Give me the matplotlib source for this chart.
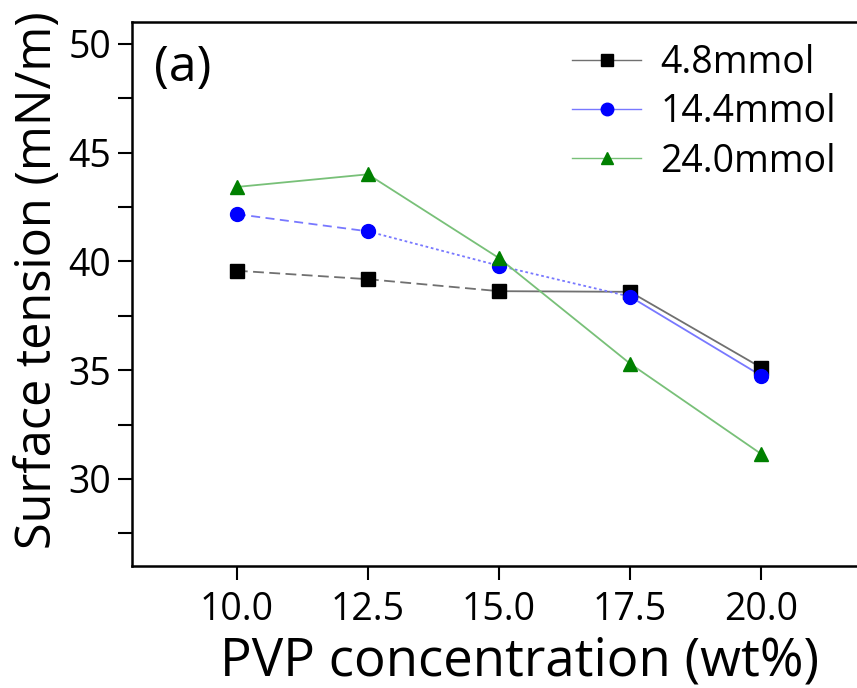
import matplotlib
matplotlib.use("Agg")
import matplotlib.pyplot as plt

plt.rcParams['font.family'] = ['Open Sans', 'DejaVu Sans']

pvp = [10.0, 12.5, 15.0, 17.5, 20.0]
labels = ['4.8mmol', '14.4mmol', '24.0mmol']
st_48 = [39.57, 39.18, 38.63, 38.6, 35.12]
st_144 = [42.17, 41.38, 39.8, 38.38, 34.75]
st_240 = [43.42, 44.0, 40.15, 35.3, 31.15]

series = [st_48, st_144, st_240]
markers = ['s', 'o', '^']
mcolors = ['black', 'blue', 'green']
lcolors = ['#707070', '#7878ff', '#78c078']
# line style of each segment between neighbouring points (mimics the original rendering)
seg_styles = [
    [(0, (6, 3)), (0, (6, 3)), '-', '-'],
    [(0, (5, 3)), (0, (1.5, 1.5)), (0, (1.5, 1.5)), '-'],
    ['-', '-', '-', '-'],
]

fig = plt.figure(figsize=(8.57, 6.88), dpi=100)
ax = fig.add_axes([132 / 857, 1 - 566 / 688, (866 - 132) / 857, (566 - 22) / 688])

for ys, mk, mc, lc, styles, lab in zip(series, markers, mcolors, lcolors, seg_styles, labels):
    for i in range(len(pvp) - 1):
        ax.plot(pvp[i:i + 2], ys[i:i + 2], color=lc, lw=1.3, ls=styles[i], zorder=2)
    ax.plot(pvp, ys, ls='none', marker=mk, color=mc, ms=10, zorder=3)
    ax.plot([], [], color=lc, lw=1.0, marker=mk, mfc=mc, mec=mc, ms=9, label=lab)

ax.set_xlim(8, 22)
ax.set_ylim(26, 51)
ax.set_xticks(pvp)
ax.set_xticklabels(['%.1f' % v for v in pvp])
ax.set_yticks([30, 35, 40, 45, 50])
ax.set_yticks([27.5, 32.5, 37.5, 42.5, 47.5], minor=True)
ax.tick_params(axis='both', which='major', direction='out', length=10, width=1.5, labelsize=27)
ax.tick_params(axis='y', which='minor', direction='out', length=10, width=1.5)
ax.tick_params(axis='x', pad=8)
ax.tick_params(axis='y', pad=5)
ax.spines['right'].set_visible(False)
for s in ['left', 'bottom', 'top']:
    ax.spines[s].set_linewidth(1.8)

fig.text(520 / 857, 1 - 676 / 688, 'PVP concentration (wt%)', fontsize=38,
         ha='center', va='baseline')
fig.text(38 / 857, 1 - 280 / 688, 'Surface tension (mN/m)', fontsize=35,
         rotation=90, ha='center', va='center')
ax.text(0.03, 0.96, '(a)', transform=ax.transAxes, fontsize=36, va='top', ha='left')

ax.legend(loc='upper left', bbox_to_anchor=(572 / 857, 1 - 44 / 688),
          bbox_transform=fig.transFigure, frameon=False, fontsize=27,
          borderpad=0, borderaxespad=0, handlelength=1.85, handletextpad=0.5,
          labelspacing=0.3)

fig.savefig('out.png', dpi=100)
